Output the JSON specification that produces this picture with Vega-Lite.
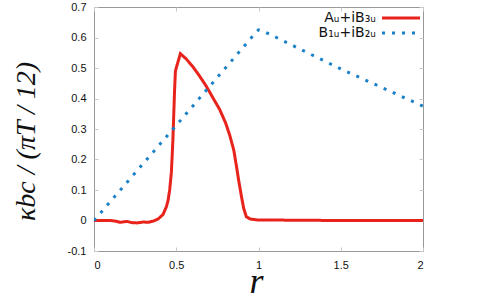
{
  "$schema": "https://vega.github.io/schema/vega-lite/v6.json",
  "width": 329,
  "height": 244,
  "autosize": "none",
  "padding": {"left": 94, "top": 7, "right": 68, "bottom": 50},
  "background": "white",
  "config": {
    "view": {"stroke": "#999999", "strokeWidth": 1},
    "axis": {
      "domain": false,
      "grid": false,
      "ticks": true,
      "tickSize": -4,
      "tickColor": "#c8c8c8",
      "labelFont": "Liberation Sans",
      "labelFontSize": 11,
      "labelColor": "#111111",
      "titleFont": "Liberation Serif",
      "titleFontStyle": "italic",
      "titleFontWeight": "normal",
      "titleColor": "#111111"
    },
    "legend": {
      "labelFont": "DejaVu Sans",
      "labelFontSize": 14,
      "labelColor": "#111111"
    }
  },
  "data": {
    "values": [
      {"r": 0.0, "k": 0.0, "s": "A"},
      {"r": 0.05, "k": 0.0, "s": "A"},
      {"r": 0.1, "k": 0.0, "s": "A"},
      {"r": 0.13, "k": -0.002, "s": "A"},
      {"r": 0.16, "k": -0.006, "s": "A"},
      {"r": 0.2, "k": -0.003, "s": "A"},
      {"r": 0.23, "k": -0.007, "s": "A"},
      {"r": 0.26, "k": -0.008, "s": "A"},
      {"r": 0.3, "k": -0.005, "s": "A"},
      {"r": 0.33, "k": -0.006, "s": "A"},
      {"r": 0.36, "k": -0.002, "s": "A"},
      {"r": 0.39, "k": 0.005, "s": "A"},
      {"r": 0.42, "k": 0.02, "s": "A"},
      {"r": 0.44, "k": 0.045, "s": "A"},
      {"r": 0.45, "k": 0.065, "s": "A"},
      {"r": 0.46, "k": 0.1, "s": "A"},
      {"r": 0.47, "k": 0.156, "s": "A"},
      {"r": 0.475, "k": 0.21, "s": "A"},
      {"r": 0.48, "k": 0.27, "s": "A"},
      {"r": 0.485, "k": 0.35, "s": "A"},
      {"r": 0.49, "k": 0.43, "s": "A"},
      {"r": 0.495, "k": 0.49, "s": "A"},
      {"r": 0.5, "k": 0.5, "s": "A"},
      {"r": 0.525, "k": 0.547, "s": "A"},
      {"r": 0.56, "k": 0.53, "s": "A"},
      {"r": 0.6, "k": 0.505, "s": "A"},
      {"r": 0.64, "k": 0.475, "s": "A"},
      {"r": 0.683, "k": 0.44, "s": "A"},
      {"r": 0.72, "k": 0.405, "s": "A"},
      {"r": 0.764, "k": 0.364, "s": "A"},
      {"r": 0.8, "k": 0.32, "s": "A"},
      {"r": 0.825, "k": 0.28, "s": "A"},
      {"r": 0.85, "k": 0.23, "s": "A"},
      {"r": 0.866, "k": 0.178, "s": "A"},
      {"r": 0.88, "k": 0.13, "s": "A"},
      {"r": 0.896, "k": 0.08, "s": "A"},
      {"r": 0.91, "k": 0.04, "s": "A"},
      {"r": 0.926, "k": 0.012, "s": "A"},
      {"r": 0.95, "k": 0.005, "s": "A"},
      {"r": 0.99, "k": 0.002, "s": "A"},
      {"r": 1.2, "k": 0.001, "s": "A"},
      {"r": 1.5, "k": 0.0, "s": "A"},
      {"r": 2.0, "k": 0.0, "s": "A"},
      {"r": 0.0, "k": 0.0, "s": "B"},
      {"r": 0.5, "k": 0.312, "s": "B"},
      {"r": 0.98, "k": 0.614, "s": "B"},
      {"r": 1.0, "k": 0.625, "s": "B"},
      {"r": 1.04, "k": 0.618, "s": "B"},
      {"r": 1.5, "k": 0.497, "s": "B"},
      {"r": 2.0, "k": 0.375, "s": "B"}
    ]
  },
  "resolve": {"axis": {"x": "independent", "y": "independent"}},
  "layer": [
    {
      "mark": {"type": "line", "strokeWidth": 3, "strokeCap": "butt", "clip": true},
      "encoding": {
        "x": {
          "field": "r", "type": "quantitative",
          "scale": {"domain": [0, 2], "nice": false},
          "axis": {"orient": "bottom", "values": [0, 0.5, 1, 1.5, 2], "format": ".1~f", "labelPadding": 12, "title": "r", "titleFontSize": 36, "titleY": 41, "titleX": 162, "titleBaseline": "alphabetic"}
        },
        "y": {
          "field": "k", "type": "quantitative",
          "scale": {"domain": [-0.1, 0.7], "nice": false, "zero": false},
          "axis": {"orient": "left", "values": [-0.1, 0, 0.1, 0.2, 0.3, 0.4, 0.5, 0.6, 0.7], "labelExpr": "datum.value == 0 ? '0' : (datum.value < 0 ? '-' + format(-datum.value, '.1f') : format(datum.value, '.1f'))", "labelPadding": 12, "title": "κbc / (πT / 12)", "titleFontSize": 28, "titleX": -68, "titleY": 134, "titleBaseline": "middle"}
        },
        "color": {
          "field": "s", "type": "nominal",
          "scale": {"domain": ["A", "B"], "range": ["#e8231c", "#1a80c8"]},
          "legend": {
            "title": null,
            "orient": "none",
            "legendX": 300,
            "legendY": 4,
            "symbolType": "M-3.8,0H3.8",
            "symbolSize": 100,
            "symbolStrokeWidth": 3,
            "labelAlign": "right",
            "labelOffset": -32,
            "rowPadding": 1,
            "labelExpr": "datum.value == 'A' ? 'Aᵤ+iB₃ᵤ' : 'B₁ᵤ+iB₂ᵤ'"
          }
        },
        "strokeDash": {
          "field": "s", "type": "nominal",
          "scale": {"domain": ["A", "B"], "range": [[1, 0], [3, 7]]},
          "legend": {
            "title": null,
            "orient": "none",
            "legendX": 300,
            "legendY": 4,
            "symbolType": "M-3.8,0H3.8",
            "symbolSize": 100,
            "symbolStrokeWidth": 3,
            "labelAlign": "right",
            "labelOffset": -32,
            "rowPadding": 1,
            "labelExpr": "datum.value == 'A' ? 'Aᵤ+iB₃ᵤ' : 'B₁ᵤ+iB₂ᵤ'"
          }
        }
      }
    },
    {
      "mark": {"type": "line", "opacity": 0},
      "encoding": {
        "x": {
          "field": "r", "type": "quantitative",
          "scale": {"domain": [0, 2], "nice": false},
          "axis": {"orient": "top", "values": [0, 0.5, 1, 1.5, 2], "labels": false, "title": null}
        },
        "y": {
          "field": "k", "type": "quantitative",
          "scale": {"domain": [-0.1, 0.7], "nice": false, "zero": false},
          "axis": {"orient": "right", "values": [-0.1, 0, 0.1, 0.2, 0.3, 0.4, 0.5, 0.6, 0.7], "labels": false, "title": null}
        },
        "detail": {"field": "s", "type": "nominal"}
      }
    }
  ]
}
